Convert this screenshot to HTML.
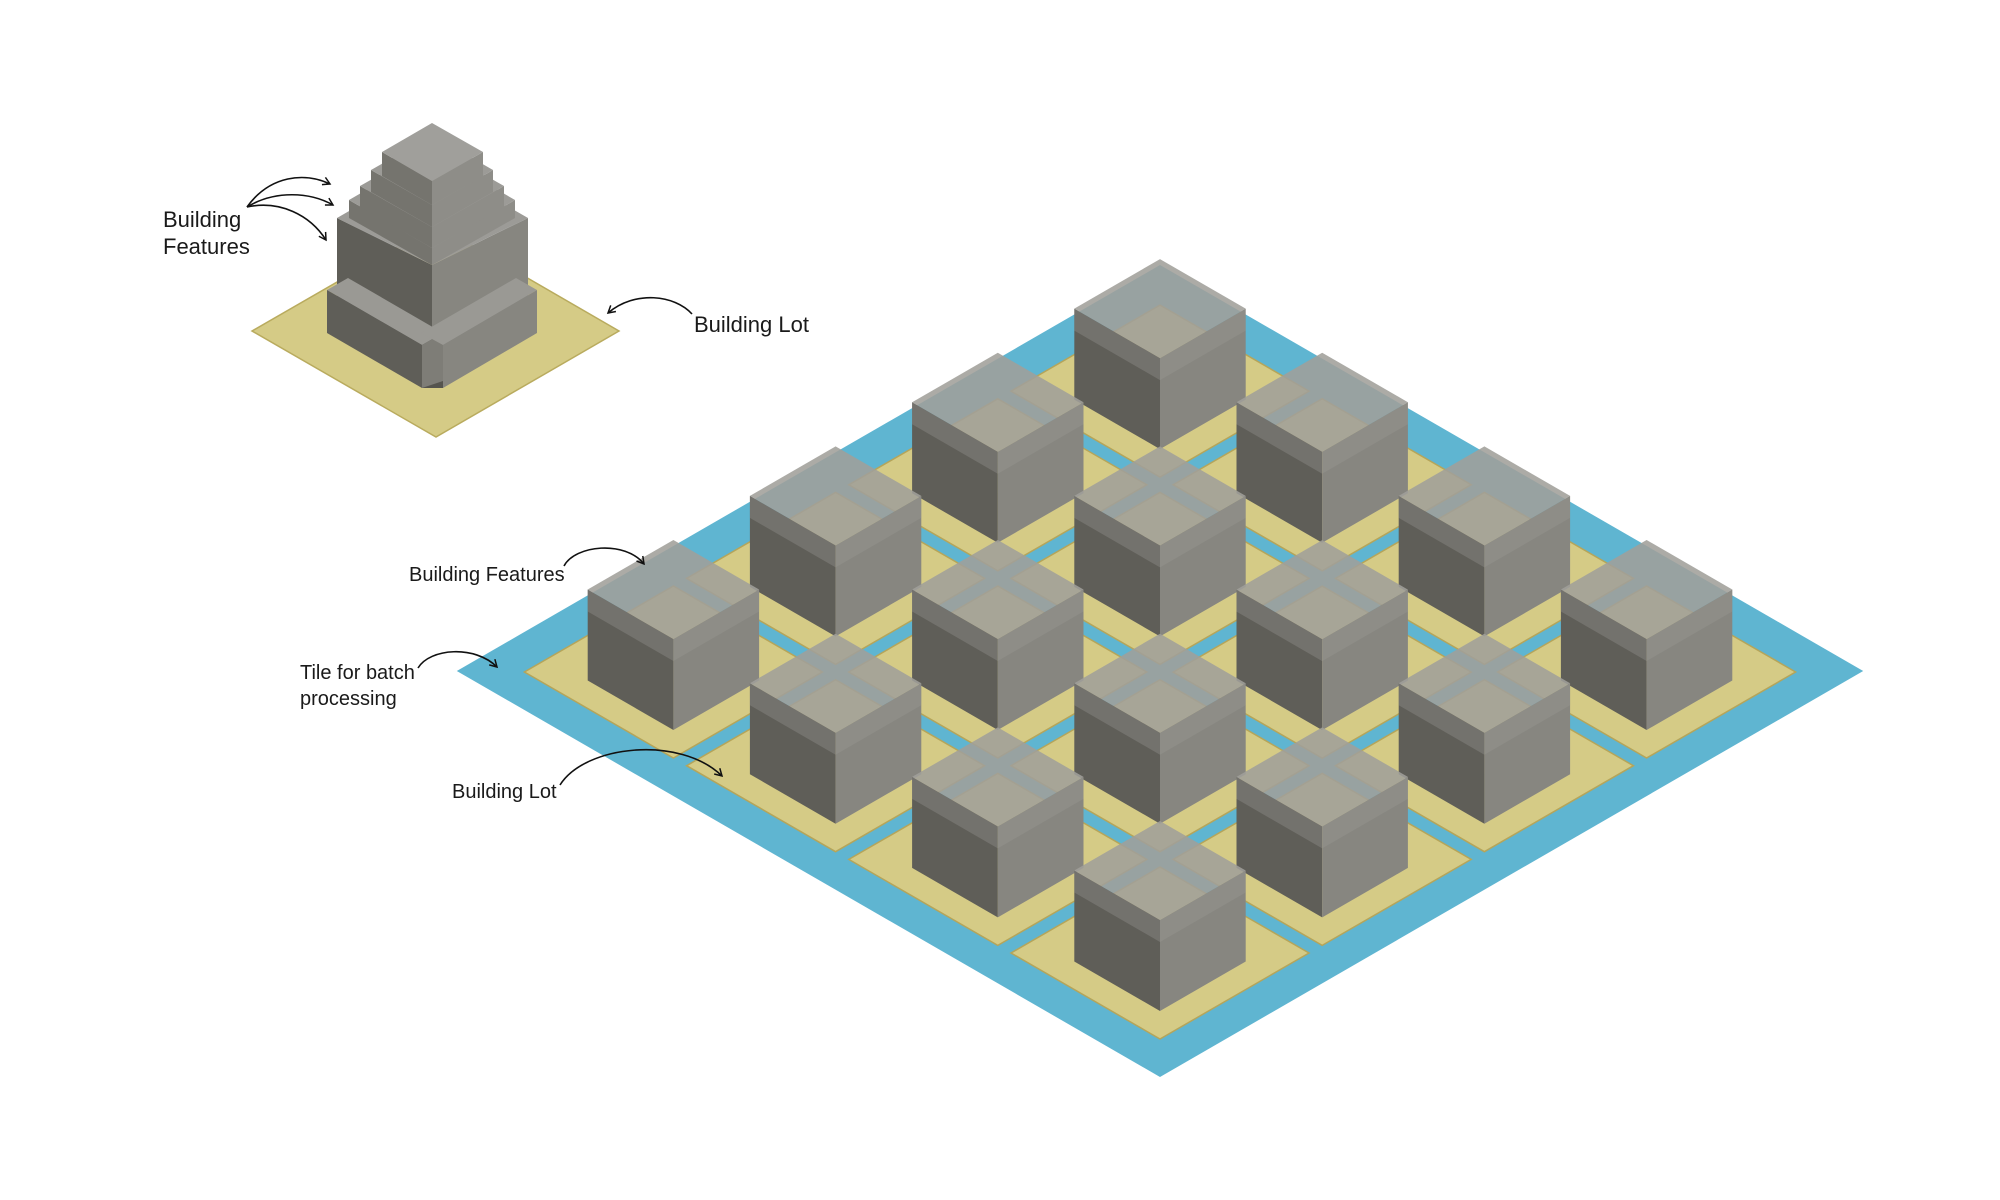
<!DOCTYPE html>
<html><head><meta charset="utf-8"><style>
html,body{margin:0;padding:0;background:#fff;}
svg{display:block;}
text{font-family:"Liberation Sans",sans-serif;fill:#1a1a1a;}
</style></head><body>
<svg id="s" xmlns="http://www.w3.org/2000/svg" width="2000" height="1200" viewBox="0 0 2000 1200">
<defs>
<marker id="ah" markerWidth="10" markerHeight="10" refX="8" refY="5" orient="auto" markerUnits="userSpaceOnUse">
<path d="M1,1 L8,5 L1,9" fill="none" stroke="#111" stroke-width="1.5"/>
</marker>
</defs>
<!-- small building -->
<polygon points="252,331 436,225 619,331 436,437" fill="#d5cb86" stroke="#b9ab5e" stroke-width="1.5"/>
<!-- main body -->
<polygon points="337,218 432,265 432,377 337,322" fill="#5f5e58"/>
<polygon points="432,265 528,218 528,322 432,377" fill="#878680"/>
<polygon points="337,218 432,163 528,218 432,265" fill="#9c9b97"/>
<!-- tier4 -->
<polygon points="349,200 432,248 432,265 349,218" fill="#75746e"/>
<polygon points="432,248 515,200 515,218 432,265" fill="#8e8d88"/>
<polygon points="349,200 432,152 515,200 432,248" fill="#9c9b97"/>
<!-- tier3 -->
<polygon points="360,186 432,227 432,248 360,207" fill="#75746e"/>
<polygon points="432,227 504,186 504,207 432,248" fill="#8e8d88"/>
<polygon points="360,186 432,145 504,186 432,227" fill="#9c9b97"/>
<!-- tier2 -->
<polygon points="371,170 432,205 432,227 371,192" fill="#75746e"/>
<polygon points="432,205 493,170 493,192 432,227" fill="#8e8d88"/>
<polygon points="371,170 432,135 493,170 432,205" fill="#9c9b97"/>
<!-- tier1 -->
<polygon points="382,152 432,181 432,205 382,176" fill="#75746e"/>
<polygon points="432,181 483,152 483,176 432,205" fill="#8e8d88"/>
<polygon points="382,152 432,123 483,152 432,181" fill="#a09f9b"/>
<!-- wings -->
<polygon points="422,333 443,333 443,388 422,388" fill="#55544e"/>
<polygon points="327,290 348,278 443,333 422,345" fill="#9a9994"/>
<polygon points="327,290 422,345 422,388 327,333" fill="#5f5e58"/>
<polygon points="422,345 443,333 443,381 422,388" fill="#7e7d77"/>
<polygon points="537,290 516,278 421,333 443,345" fill="#9a9994"/>
<polygon points="443,345 537,290 537,333 443,388" fill="#878680"/>
<g id="big"></g>
<!-- arrows -->
<g fill="none" stroke="#111" stroke-width="1.6">
<path d="M247,207 C270,175 305,172 330,184" marker-end="url(#ah)"/>
<path d="M247,207 C275,190 310,192 333,205" marker-end="url(#ah)"/>
<path d="M247,207 C280,200 310,215 326,240" marker-end="url(#ah)"/>
<path d="M692,314 C675,295 635,290 608,313" marker-end="url(#ah)"/>
<path d="M564,566 C575,545 625,540 644,564" marker-end="url(#ah)"/>
<path d="M418,668 C430,648 475,645 497,667" marker-end="url(#ah)"/>
<path d="M560,785 C585,745 680,735 722,776" marker-end="url(#ah)"/>
</g>
<g font-size="22">
<text x="163" y="227">Building</text>
<text x="163" y="254">Features</text>
<text x="694" y="332">Building Lot</text>
</g>
<g font-size="20">
<text x="409" y="581">Building Features</text>
<text x="300" y="679">Tile for batch</text>
<text x="300" y="705">processing</text>
<text x="452" y="798">Building Lot</text>
</g>
</svg>
<script>
(function(){
var B=[1160,1077],ca=0.866,sa=0.5;
function P(i,j,h){return [B[0]+ca*i-ca*j, B[1]-sa*i-sa*j-(h||0)];}
function poly(pts,fill,extra){return '<polygon points="'+pts.map(function(p){return p[0].toFixed(1)+','+p[1].toFixed(1)}).join(' ')+'" fill="'+fill+'" '+(extra||'')+'/>';}
var L=812,s='';
s+=poly([P(0,0),P(L,0),P(L,L),P(0,L)],'#5fb5d1');
var lot=172,step=187.3,m=38,cs=99,h=91,ins=28;
for(var r=0;r<4;r++)for(var c=0;c<4;c++){
 var i0=m+c*step,j0=m+r*step;
 s+=poly([P(i0,j0),P(i0+lot,j0),P(i0+lot,j0+lot),P(i0,j0+lot)],'#d5cb86','stroke="#b5a55a" stroke-width="1.5"');
}
var cubes=[];
for(var r=0;r<4;r++)for(var c=0;c<4;c++){cubes.push([m+c*step+ins,m+r*step+ins]);}
cubes.sort(function(a,b){return (b[0]+b[1])-(a[0]+a[1]);});
cubes.forEach(function(q){
 var i=q[0],j=q[1];
 s+=poly([P(i,j+cs),P(i,j),P(i,j,h),P(i,j+cs,h)],'#5f5e58');
 s+=poly([P(i,j),P(i+cs,j),P(i+cs,j,h),P(i,j,h)],'#878680');
 s+=poly([P(i,j+cs,h),P(i,j,h),P(i,j,h-22),P(i,j+cs,h-22)],'#9a9995','opacity="0.35"');
 s+=poly([P(i,j,h),P(i+cs,j,h),P(i+cs,j,h-22),P(i,j,h-22)],'#a3a29d','opacity="0.25"');
 s+=poly([P(i,j,h),P(i+cs,j,h),P(i+cs,j+cs,h),P(i,j+cs,h)],'#a09f9a','opacity="0.88"');
});
document.getElementById('big').innerHTML=s;
})();
</script>
</body></html>
